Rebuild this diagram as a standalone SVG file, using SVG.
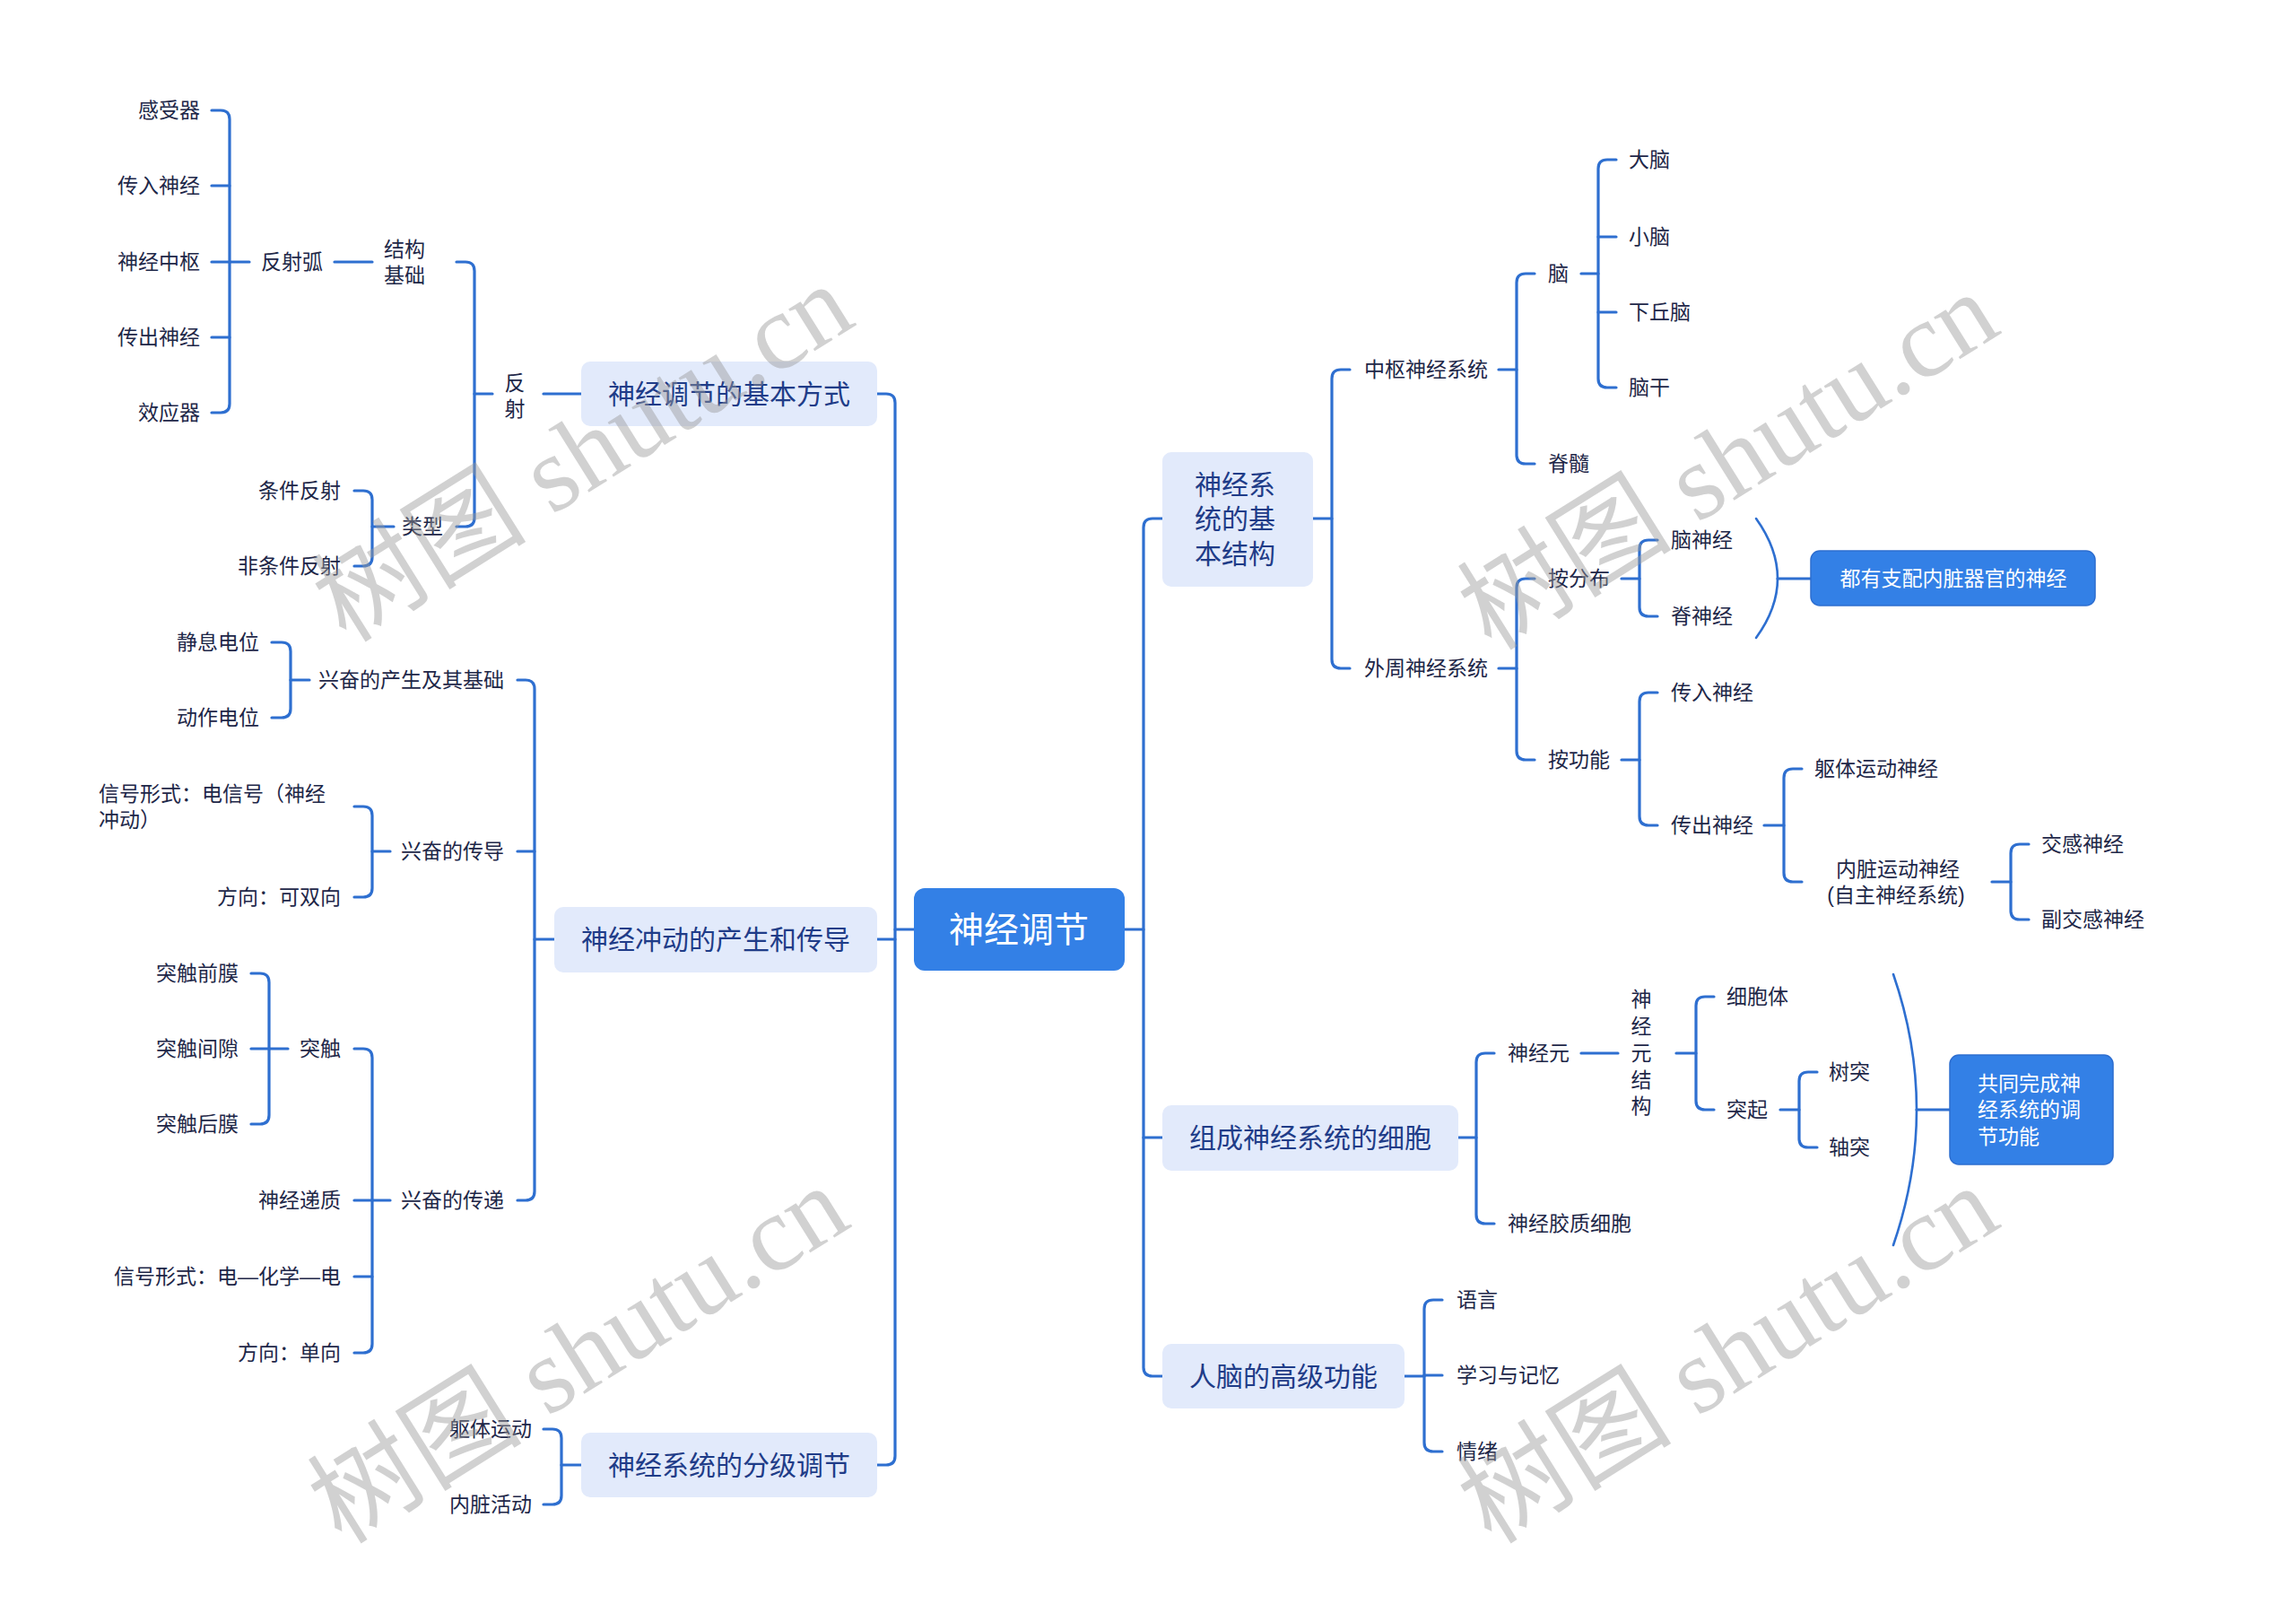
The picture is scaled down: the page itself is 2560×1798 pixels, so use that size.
<svg xmlns="http://www.w3.org/2000/svg" width="2560" height="1798" viewBox="0 0 2560 1798">
<style>
text{font-family:"Liberation Sans","Noto Sans CJK SC",sans-serif;dominant-baseline:central}
.leaf{font-size:23px;fill:#1e2748}
.l1{font-size:30px;fill:#1f3c88}
.wt{font-size:23px;fill:#ffffff}
.end{text-anchor:end}
.mid{text-anchor:middle}
.box1{fill:#e2eafb}
.boxb{fill:#3380e6;stroke:#2c6dd0;stroke-width:1.5}
.conn path{fill:none;stroke:#2e6fd0;stroke-width:3.2;stroke-linecap:round}
.wm{font-family:"Liberation Serif","Noto Sans CJK SC",serif;font-size:120px;fill:#9a9a9a;fill-opacity:0.45;text-anchor:middle}
</style>
<rect width="2560" height="1798" fill="#ffffff"/>
<g class="conn">
<!-- main left -->
<path d="M978 439 H988 Q998 439 998 449 V1623 Q998 1633 988 1633 H978"/>
<path d="M978 1047 H998"/>
<path d="M1019 1036 H998"/>
<!-- main right -->
<path d="M1296 578 H1285 Q1275 578 1275 588 V1524 Q1275 1534 1285 1534 H1296"/>
<path d="M1275 1268 H1296"/>
<path d="M1254 1036 H1275"/>
<!-- 基本方式 -->
<path d="M648 439 H606"/>
<path d="M549 439 H529"/>
<path d="M509 292 H519 Q529 292 529 302 V577 Q529 587 519 587 H509"/>
<path d="M373 292 H415"/>
<path d="M278 292 H256"/>
<path d="M236 123 H246 Q256 123 256 133 V450 Q256 460 246 460 H236"/>
<path d="M236 207 H256"/>
<path d="M236 292 H256"/>
<path d="M236 376 H256"/>
<path d="M439 587 H415"/>
<path d="M395 547 H405 Q415 547 415 557 V621 Q415 631 405 631 H395"/>
<!-- 冲动 -->
<path d="M618 1047 H596"/>
<path d="M577 758 H586 Q596 758 596 768 V1328 Q596 1338 586 1338 H577"/>
<path d="M577 949 H596"/>
<path d="M345 758 H324"/>
<path d="M303 716 H314 Q324 716 324 726 V790 Q324 800 314 800 H303"/>
<path d="M435 949 H415"/>
<path d="M395 899 H405 Q415 899 415 909 V990 Q415 1000 405 1000 H395"/>
<path d="M435 1338 H415"/>
<path d="M395 1169 H405 Q415 1169 415 1179 V1498 Q415 1508 405 1508 H395"/>
<path d="M395 1338 H415"/>
<path d="M395 1423 H415"/>
<path d="M321 1169 H300"/>
<path d="M280 1085 H290 Q300 1085 300 1095 V1243 Q300 1253 290 1253 H280"/>
<path d="M280 1169 H300"/>
<!-- 分级 -->
<path d="M648 1633 H626"/>
<path d="M606 1593 H616 Q626 1593 626 1603 V1667 Q626 1677 616 1677 H606"/>
<!-- 基本结构 -->
<path d="M1464 578 H1485"/>
<path d="M1505 412 H1495 Q1485 412 1485 422 V735 Q1485 745 1495 745 H1505"/>
<path d="M1671 412 H1691"/>
<path d="M1711 305 H1701 Q1691 305 1691 315 V507 Q1691 517 1701 517 H1711"/>
<path d="M1763 305 H1782"/>
<path d="M1802 178 H1792 Q1782 178 1782 188 V422 Q1782 432 1792 432 H1802"/>
<path d="M1782 264 H1802"/>
<path d="M1782 348 H1802"/>
<path d="M1671 745 H1691"/>
<path d="M1711 645 H1701 Q1691 645 1691 655 V837 Q1691 847 1701 847 H1711"/>
<path d="M1808 645 H1828"/>
<path d="M1848 602 H1838 Q1828 602 1828 612 V677 Q1828 687 1838 687 H1848"/>
<path d="M1958 578 Q2006 645 1958 711" style="stroke-width:2.6"/>
<path d="M1982 645 H2019"/>
<path d="M1808 847 H1828"/>
<path d="M1848 772 H1838 Q1828 772 1828 782 V910 Q1828 920 1838 920 H1848"/>
<path d="M1967 920 H1989"/>
<path d="M2009 857 H1999 Q1989 857 1989 867 V973 Q1989 983 1999 983 H2009"/>
<path d="M2221 983 H2242"/>
<path d="M2262 941 H2252 Q2242 941 2242 951 V1015 Q2242 1025 2252 1025 H2262"/>
<!-- 细胞 -->
<path d="M1626 1268 H1646"/>
<path d="M1666 1174 H1656 Q1646 1174 1646 1184 V1354 Q1646 1364 1656 1364 H1666"/>
<path d="M1763 1174 H1804"/>
<path d="M1869 1174 H1891"/>
<path d="M1911 1111 H1901 Q1891 1111 1891 1121 V1227 Q1891 1237 1901 1237 H1911"/>
<path d="M1985 1237 H2006"/>
<path d="M2026 1195 H2016 Q2006 1195 2006 1205 V1269 Q2006 1279 2016 1279 H2026"/>
<path d="M2111 1086 Q2163 1237 2111 1388" style="stroke-width:2.6"/>
<path d="M2137 1237 H2174"/>
<!-- 人脑 -->
<path d="M1566 1534 H1588"/>
<path d="M1608 1449 H1598 Q1588 1449 1588 1459 V1608 Q1588 1618 1598 1618 H1608"/>
<path d="M1588 1533 H1608"/>
</g>

<g id="root"><rect x="1019" y="990" width="235" height="92" rx="12" fill="#3380e6"/><text x="1136" y="1036" class="mid" style="font-size:39px;fill:#fff">神经调节</text></g>

<g id="n-jbfs"><rect class="box1" x="648" y="403" width="330" height="72" rx="10"/><text class="l1 mid" x="813" y="439">神经调节的基本方式</text></g>
<g id="n-fs"><text class="leaf mid" x="574" y="427">反</text><text class="leaf mid" x="574" y="456">射</text></g>
<g id="n-jgjc"><text class="leaf" x="428" y="278">结构</text><text class="leaf" x="428" y="307">基础</text></g>
<g id="n-fsh"><text class="leaf end" x="360" y="292">反射弧</text></g>
<g id="n-gsq"><text class="leaf end" x="223" y="123">感受器</text></g>
<g id="n-crsj"><text class="leaf end" x="223" y="207">传入神经</text></g>
<g id="n-sjzs"><text class="leaf end" x="223" y="292">神经中枢</text></g>
<g id="n-ccsj"><text class="leaf end" x="223" y="376">传出神经</text></g>
<g id="n-xyq"><text class="leaf end" x="223" y="460">效应器</text></g>
<g id="n-lx"><text class="leaf end" x="494" y="587">类型</text></g>
<g id="n-tjfs"><text class="leaf end" x="380" y="547">条件反射</text></g>
<g id="n-ftjfs"><text class="leaf end" x="380" y="631">非条件反射</text></g>

<g id="n-cd"><rect class="box1" x="618" y="1011" width="360" height="73" rx="10"/><text class="l1 mid" x="798" y="1047">神经冲动的产生和传导</text></g>
<g id="n-cs"><text class="leaf end" x="562" y="758">兴奋的产生及其基础</text></g>
<g id="n-jxdw"><text class="leaf end" x="289" y="716">静息电位</text></g>
<g id="n-dzdw"><text class="leaf end" x="289" y="800">动作电位</text></g>
<g id="n-cd2"><text class="leaf end" x="562" y="949">兴奋的传导</text></g>
<g id="n-xhxs1"><text class="leaf" x="110" y="885">信号形式：电信号（神经</text><text class="leaf" x="110" y="914">冲动）</text></g>
<g id="n-fx1"><text class="leaf end" x="380" y="1000">方向：可双向</text></g>
<g id="n-cd3"><text class="leaf end" x="562" y="1338">兴奋的传递</text></g>
<g id="n-tc"><text class="leaf end" x="380" y="1169">突触</text></g>
<g id="n-tcqm"><text class="leaf end" x="266" y="1085">突触前膜</text></g>
<g id="n-tcjx"><text class="leaf end" x="266" y="1169">突触间隙</text></g>
<g id="n-tchm"><text class="leaf end" x="266" y="1253">突触后膜</text></g>
<g id="n-sjdz"><text class="leaf end" x="380" y="1338">神经递质</text></g>
<g id="n-xhxs2"><text class="leaf end" x="380" y="1423">信号形式：电—化学—电</text></g>
<g id="n-fx2"><text class="leaf end" x="380" y="1508">方向：单向</text></g>

<g id="n-fj"><rect class="box1" x="648" y="1597" width="330" height="72" rx="10"/><text class="l1 mid" x="813" y="1633">神经系统的分级调节</text></g>
<g id="n-qtyd"><text class="leaf end" x="593" y="1593">躯体运动</text></g>
<g id="n-nzhd"><text class="leaf end" x="593" y="1677">内脏活动</text></g>

<g id="n-jbjg"><rect class="box1" x="1296" y="504" width="168" height="150" rx="10"/><text class="l1" x="1332" y="540">神经系</text><text class="l1" x="1332" y="578">统的基</text><text class="l1" x="1332" y="617">本结构</text></g>
<g id="n-zs"><text class="leaf" x="1521" y="412">中枢神经系统</text></g>
<g id="n-n"><text class="leaf" x="1726" y="305">脑</text></g>
<g id="n-dn"><text class="leaf" x="1816" y="178">大脑</text></g>
<g id="n-xn"><text class="leaf" x="1816" y="264">小脑</text></g>
<g id="n-xqn"><text class="leaf" x="1816" y="348">下丘脑</text></g>
<g id="n-ng"><text class="leaf" x="1816" y="432">脑干</text></g>
<g id="n-js"><text class="leaf" x="1726" y="517">脊髓</text></g>
<g id="n-wz"><text class="leaf" x="1521" y="745">外周神经系统</text></g>
<g id="n-afb"><text class="leaf" x="1726" y="645">按分布</text></g>
<g id="n-nsj"><text class="leaf" x="1863" y="602">脑神经</text></g>
<g id="n-jsj"><text class="leaf" x="1863" y="687">脊神经</text></g>
<g id="n-dyzp"><rect class="boxb" x="2019" y="614" width="317" height="61" rx="10"/><text class="wt mid" x="2178" y="645">都有支配内脏器官的神经</text></g>
<g id="n-agn"><text class="leaf" x="1726" y="847">按功能</text></g>
<g id="n-crsj2"><text class="leaf" x="1863" y="772">传入神经</text></g>
<g id="n-ccsj2"><text class="leaf" x="1863" y="920">传出神经</text></g>
<g id="n-qtydsj"><text class="leaf" x="2023" y="857">躯体运动神经</text></g>
<g id="n-nzydsj"><text class="leaf mid" x="2116" y="969">内脏运动神经</text><text class="leaf mid" x="2114" y="998">(自主神经系统)</text></g>
<g id="n-jgsj"><text class="leaf" x="2276" y="941">交感神经</text></g>
<g id="n-fjgsj"><text class="leaf" x="2276" y="1025">副交感神经</text></g>

<g id="n-xb"><rect class="box1" x="1296" y="1232" width="330" height="73" rx="10"/><text class="l1 mid" x="1461" y="1268">组成神经系统的细胞</text></g>
<g id="n-sjy"><text class="leaf" x="1681" y="1174">神经元</text></g>
<g id="n-sjyjg"><text class="leaf mid" x="1830" y="1114">神</text><text class="leaf mid" x="1830" y="1144">经</text><text class="leaf mid" x="1830" y="1174">元</text><text class="leaf mid" x="1830" y="1204">结</text><text class="leaf mid" x="1830" y="1233">构</text></g>
<g id="n-xbt"><text class="leaf" x="1925" y="1111">细胞体</text></g>
<g id="n-tq"><text class="leaf" x="1925" y="1237">突起</text></g>
<g id="n-st"><text class="leaf" x="2039" y="1195">树突</text></g>
<g id="n-zt"><text class="leaf" x="2039" y="1279">轴突</text></g>
<g id="n-sjjz"><text class="leaf" x="1681" y="1364">神经胶质细胞</text></g>
<g id="n-gtwc"><rect class="boxb" x="2174" y="1176" width="182" height="122" rx="10"/><text class="wt" x="2205" y="1208">共同完成神</text><text class="wt" x="2205" y="1237">经系统的调</text><text class="wt" x="2205" y="1267">节功能</text></g>

<g id="n-rn"><rect class="box1" x="1296" y="1498" width="270" height="72" rx="10"/><text class="l1 mid" x="1431" y="1534">人脑的高级功能</text></g>
<g id="n-yy"><text class="leaf" x="1624" y="1449">语言</text></g>
<g id="n-xx"><text class="leaf" x="1624" y="1533">学习与记忆</text></g>
<g id="n-qx"><text class="leaf" x="1624" y="1618">情绪</text></g>

<g id="watermark">
<text class="wm" transform="translate(650 505) rotate(-32)">树图 shutu.cn</text>
<text class="wm" transform="translate(1927 514) rotate(-32)">树图 shutu.cn</text>
<text class="wm" transform="translate(645 1510) rotate(-32)">树图 shutu.cn</text>
<text class="wm" transform="translate(1927 1510) rotate(-32)">树图 shutu.cn</text>
</g>
</svg>
